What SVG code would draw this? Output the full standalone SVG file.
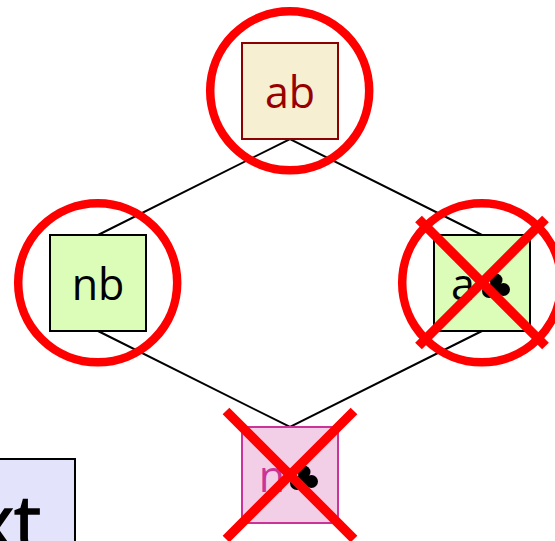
<svg xmlns="http://www.w3.org/2000/svg" width="555" height="541" viewBox="0 0 555 541">
<style>
text{font-family:"Open Sans","Noto Sans",sans-serif;font-size:43px;text-anchor:middle}
.c{fill:none;stroke:#000;stroke-width:2}
.r{fill:none;stroke:#f00;stroke-width:8.5}
.x{stroke:#f00;stroke-width:9.5;fill:none}
.g{fill:#dcfdb8;stroke:#000;stroke-width:2}
</style>
<defs>
<g id="blot" fill="#000">
<circle cx="14" cy="-3" r="6.5"/>
<circle cx="21.5" cy="6.5" r="6.5"/>
<circle cx="7" cy="8" r="7"/>
<circle cx="13" cy="4" r="6"/>
</g>
</defs>
<rect width="555" height="541" fill="#fff"/>
<g id="connectors">
<path class="c" d="M98 235L290 139L482 235M98 331L290 427L482 331"/>
</g>
<g id="node-ab">
<rect x="242" y="43" width="96" height="96" fill="#f7efd1" stroke="#8b0000" stroke-width="2"/>
<text x="290" y="108" fill="#980000">ab</text>
<circle cx="289.7" cy="90.8" r="79.5" class="r"/>
</g>
<g id="node-nb">
<rect x="50" y="235" width="96" height="96" class="g"/>
<text x="98" y="300" fill="#000">nb</text>
<circle cx="97.7" cy="282.8" r="79.5" class="r"/>
</g>
<g id="node-a">
<rect x="434" y="235" width="96" height="96" class="g"/>
<text x="463" y="300" fill="#000">a</text>
<use href="#blot" x="482" y="283"/>
<circle cx="481.7" cy="282.8" r="79.5" class="r"/>
<path class="x" d="M418.5 219L545.5 346M545.5 219L418.5 346"/>
</g>
<g id="node-n">
<rect x="242" y="427" width="96" height="96" fill="#f3cee7" stroke="#cc3399" stroke-width="2"/>
<text x="272" y="492" fill="#cc3399">n</text>
<use href="#blot" x="290" y="475"/>
<path class="x" d="M226 411L354 539M354 411L226 539"/>
</g>
<g id="node-text">
<rect x="-40" y="459" width="115" height="110" fill="#e3e3fb" stroke="#000" stroke-width="2"/>
<text x="41" y="550" style="font-size:76px;text-anchor:end" stroke="#000" stroke-width="1.5">xt</text>
</g>
</svg>
